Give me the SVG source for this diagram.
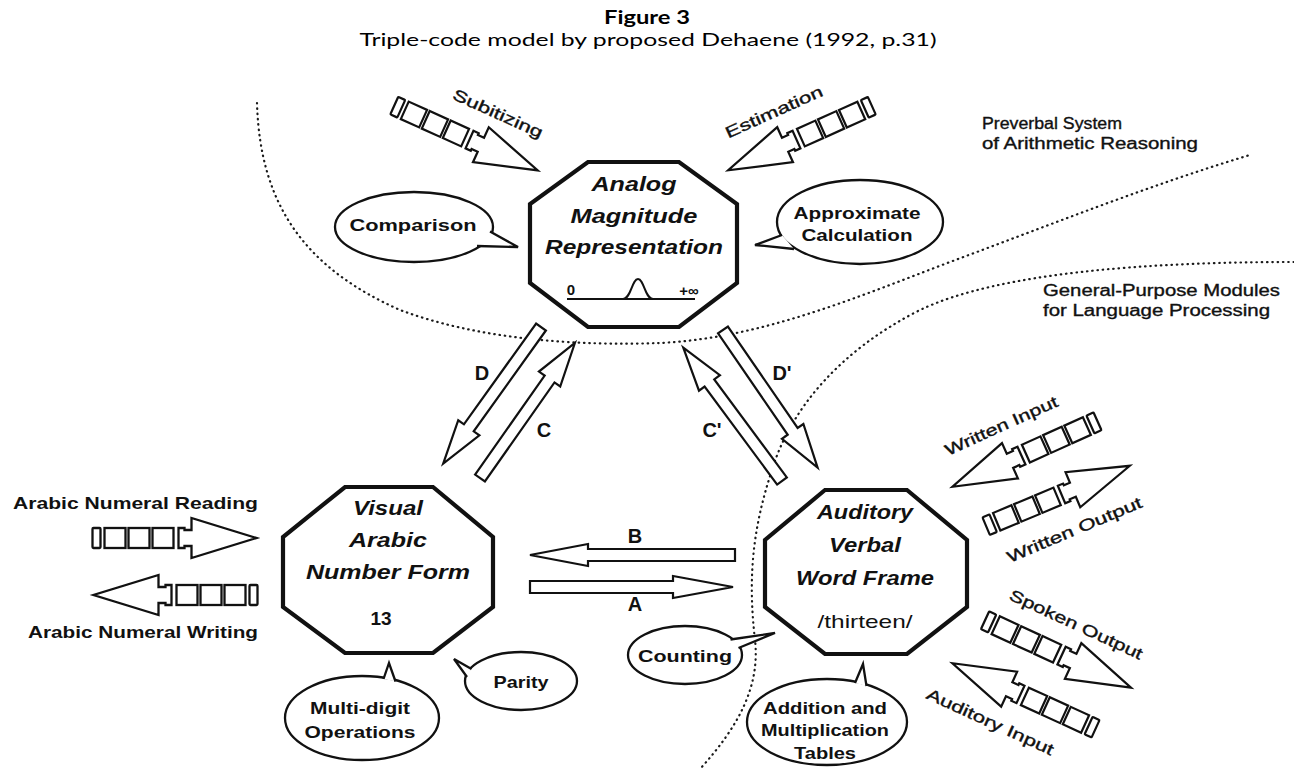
<svg xmlns="http://www.w3.org/2000/svg" width="1294" height="769" viewBox="0 0 1294 769">
<style>
.t{font-family:'Liberation Sans',Arial,Helvetica,sans-serif;fill:#111;text-anchor:middle}
.ttl{font-family:Lato,'Liberation Sans',sans-serif;fill:#000;text-anchor:middle}
.oct{fill:#fff;stroke:#111;stroke-width:4.2;stroke-linejoin:miter}
.bub{fill:#fff;stroke:#111;stroke-width:2.3}
.tail{fill:#fff;stroke:#111;stroke-width:2.3;stroke-linejoin:miter}
.sp{fill:#fff;stroke:#111;stroke-width:2.3;stroke-linejoin:miter}
.la{fill:#fff;stroke:#111;stroke-width:2.2;stroke-linejoin:miter}
.dot{fill:none;stroke:#1a1a1a;stroke-width:2.2;stroke-dasharray:0.5 4.8;stroke-linecap:round}
.ni{font-weight:bold;font-style:italic;font-size:20px}
.nr{font-weight:bold;font-size:19px}
.bt{font-weight:bold;font-size:17px}
.lt{font-size:16px;stroke:#111;stroke-width:0.35}
.ab{font-weight:bold;font-size:20px}
</style>
<defs>
<g id="sa">
<rect class="sp" x="-82" y="-10" width="8" height="20" rx="1"/>
<rect class="sp" x="-70" y="-10" width="21" height="20"/>
<rect class="sp" x="-46" y="-10" width="21" height="20"/>
<rect class="sp" x="-22" y="-10" width="21" height="20"/>
<path class="sp" d="M4,-10 H10 V-8 H17 V-20 L82,0 L17,20 V8 H10 V10 H4 Z"/>
</g>
</defs>
<rect width="1294" height="769" fill="#fff"/>

<g id="title">
<text class="ttl" x="647" y="24" font-size="18" font-weight="bold" textLength="86" lengthAdjust="spacingAndGlyphs">Figure 3</text>
<text class="ttl" x="648" y="46" font-size="18" textLength="577" lengthAdjust="spacingAndGlyphs">Triple-code model by proposed Dehaene (1992, p.31)</text>
</g>

<g id="regions">
<path class="dot" d="M257,103 C260,210 310,270 400,310 C480,340 580,346 660,343 C760,338 850,300 950,262 C1050,225 1150,185 1250,155"/>
<path class="dot" d="M1294,262 C1150,262 1000,272 920,310 C840,350 790,410 772,470 C752,530 748,580 755,640 C760,685 740,725 700,769"/>
<text class="t lt" x="982" y="129" style="text-anchor:start" textLength="140" lengthAdjust="spacingAndGlyphs">Preverbal System</text>
<text class="t lt" x="982" y="149" style="text-anchor:start" textLength="216" lengthAdjust="spacingAndGlyphs">of Arithmetic Reasoning</text>
<text class="t lt" x="1043" y="296" style="text-anchor:start" textLength="237" lengthAdjust="spacingAndGlyphs">General-Purpose Modules</text>
<text class="t lt" x="1043" y="316" style="text-anchor:start" textLength="227" lengthAdjust="spacingAndGlyphs">for Language Processing</text>
</g>

<g id="connectors">
<path id="D" class="la" transform="translate(541,327) rotate(125.6)" d="M0,-6 H124 V-13 L168,0 L124,13 V6 H0 Z"/>
<path id="C" class="la" transform="translate(480,478) rotate(-54.9)" d="M0,-6 H121 V-13 L165,0 L121,13 V6 H0 Z"/>
<path id="C2" class="la" transform="translate(782,481) rotate(-126.5)" d="M0,-6 H122 V-13 L166,0 L122,13 V6 H0 Z"/>
<path id="D2" class="la" transform="translate(723,330) rotate(55.5)" d="M0,-6 H123 V-13 L167,0 L123,13 V6 H0 Z"/>
<path id="B" class="la" d="M735,549 H588 V544 L530,555 L588,566 V561 H735 Z"/>
<path id="A" class="la" d="M530,581 H673 V576 L733,587 L673,598 V593 H530 Z"/>
<text class="t ab" x="482" y="380">D</text>
<text class="t ab" x="544" y="437">C</text>
<text class="t ab" x="712" y="437">C'</text>
<text class="t ab" x="782" y="380">D'</text>
<text class="t ab" x="635" y="543">B</text>
<text class="t ab" x="635" y="611">A</text>
</g>

<g id="inputs">
<g id="subitizing" transform="translate(466,138) rotate(24.3)">
<use href="#sa" transform="scale(0.96)"/>
<text class="t lt" x="19" y="-30" textLength="97" lengthAdjust="spacingAndGlyphs">Subitizing</text>
</g>
<g id="estimation" transform="translate(800,138) rotate(-24.2)">
<use href="#sa" transform="scale(-0.96,0.96)"/>
<text class="t lt" x="-13" y="-29" textLength="105" lengthAdjust="spacingAndGlyphs">Estimation</text>
</g>
<g id="reading" transform="translate(174.5,538)">
<use href="#sa"/>
<text class="t bt" x="-39" y="-29" textLength="245" lengthAdjust="spacingAndGlyphs">Arabic Numeral Reading</text>
</g>
<g id="writing" transform="translate(175.5,595)">
<use href="#sa" transform="scale(-1,1)"/>
<text class="t bt" x="-32.5" y="43" textLength="230" lengthAdjust="spacingAndGlyphs">Arabic Numeral Writing</text>
</g>
<g id="written-input" transform="translate(1025,454) rotate(-24.3)">
<use href="#sa" transform="scale(-0.97,0.97)"/>
<text class="t lt" x="-10" y="-30" textLength="122" lengthAdjust="spacingAndGlyphs">Written Input</text>
</g>
<g id="written-output" transform="translate(1058,496) rotate(-22.8)">
<use href="#sa" transform="scale(0.95)"/>
<text class="t lt" x="2" y="43" textLength="145" lengthAdjust="spacingAndGlyphs">Written Output</text>
</g>
<g id="spoken-output" transform="translate(1058,654) rotate(24.8)">
<use href="#sa" transform="scale(0.98)"/>
<text class="t lt" x="4" y="-29" textLength="145" lengthAdjust="spacingAndGlyphs">Spoken Output</text>
</g>
<g id="auditory-input" transform="translate(1024,696) rotate(24.6)">
<use href="#sa" transform="scale(-0.96,0.96)"/>
<text class="t lt" x="-20" y="43" textLength="138" lengthAdjust="spacingAndGlyphs">Auditory Input</text>
</g>
</g>

<g id="analog">
<polygon class="oct" points="588,162 679,162 737,204 737,283 679,327 588,327 530,283 530,204"/>
<text class="t ni" x="634" y="191" textLength="85" lengthAdjust="spacingAndGlyphs">Analog</text>
<text class="t ni" x="634" y="223" textLength="127" lengthAdjust="spacingAndGlyphs">Magnitude</text>
<text class="t ni" x="634" y="254" textLength="178" lengthAdjust="spacingAndGlyphs">Representation</text>
<line x1="567" y1="299" x2="695" y2="299" stroke="#111" stroke-width="2"/>
<path d="M623,299 C631,299 632,279 638,279 C644,279 645,299 653,299" fill="none" stroke="#111" stroke-width="2"/>
<text class="t" x="571" y="295" font-size="15" font-weight="bold">0</text>
<text class="t" x="689" y="296" font-size="15" font-weight="bold">+∞</text>
</g>

<g id="visual">
<polygon class="oct" points="345,487 433,487 493,537 493,607 433,653 345,653 283,607 283,537"/>
<text class="t ni" x="388" y="515" textLength="70" lengthAdjust="spacingAndGlyphs">Visual</text>
<text class="t ni" x="388" y="547" textLength="78" lengthAdjust="spacingAndGlyphs">Arabic</text>
<text class="t ni" x="388" y="579" textLength="164" lengthAdjust="spacingAndGlyphs">Number Form</text>
<text class="t nr" x="381" y="625">13</text>
</g>

<g id="auditory">
<polygon class="oct" points="825,490 907,490 967,540 967,607 907,654 825,654 765,607 765,540"/>
<text class="t ni" x="865" y="519" textLength="96" lengthAdjust="spacingAndGlyphs">Auditory</text>
<text class="t ni" x="865" y="552" textLength="72" lengthAdjust="spacingAndGlyphs">Verbal</text>
<text class="t ni" x="865" y="585" textLength="138" lengthAdjust="spacingAndGlyphs">Word Frame</text>
<text class="t" x="865" y="628" font-size="19" textLength="95" lengthAdjust="spacingAndGlyphs">/thirteen/</text>
</g>

<g id="comparison">
<ellipse class="bub" cx="414" cy="227" rx="79" ry="35"/>
<path class="tail" d="M490,231.5 L518,247 L477,246"/>
<text class="t bt" x="413" y="231" textLength="127" lengthAdjust="spacingAndGlyphs">Comparison</text>
</g>

<g id="approximate">
<ellipse class="bub" cx="860" cy="222" rx="83" ry="42"/>
<path class="tail" d="M782,235 L755,245 L794,249"/>
<text class="t bt" x="857" y="219" textLength="127" lengthAdjust="spacingAndGlyphs">Approximate</text>
<text class="t bt" x="857" y="241" textLength="111" lengthAdjust="spacingAndGlyphs">Calculation</text>
</g>

<g id="multidigit">
<ellipse class="bub" cx="362" cy="718" rx="77" ry="42"/>
<path class="tail" d="M383.5,679 L389,663 L395.5,681.5"/>
<text class="t bt" x="360" y="714" textLength="100" lengthAdjust="spacingAndGlyphs">Multi-digit</text>
<text class="t bt" x="360" y="738" textLength="111" lengthAdjust="spacingAndGlyphs">Operations</text>
</g>

<g id="parity">
<ellipse class="bub" cx="521" cy="681" rx="56" ry="29"/>
<path class="tail" d="M471.5,669 L454,659 L467,677"/>
<text class="t bt" x="521" y="688" textLength="55" lengthAdjust="spacingAndGlyphs">Parity</text>
</g>

<g id="counting">
<ellipse class="bub" cx="685" cy="655" rx="57" ry="29"/>
<path class="tail" d="M730.5,639.5 L775,633 L738.5,648"/>
<text class="t bt" x="685" y="662" textLength="94" lengthAdjust="spacingAndGlyphs">Counting</text>
</g>

<g id="tables">
<ellipse class="bub" cx="827" cy="722" rx="80" ry="43"/>
<path class="tail" d="M855,683 L863,664 L866.5,686"/>
<text class="t bt" x="825" y="714" textLength="124" lengthAdjust="spacingAndGlyphs">Addition and</text>
<text class="t bt" x="825" y="736" textLength="128" lengthAdjust="spacingAndGlyphs">Multiplication</text>
<text class="t bt" x="825" y="759" textLength="62" lengthAdjust="spacingAndGlyphs">Tables</text>
</g>
</svg>
